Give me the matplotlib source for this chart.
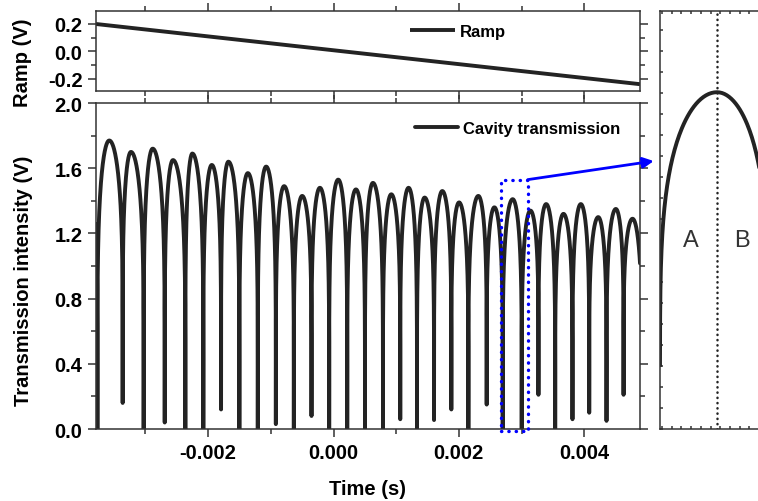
import numpy as np
import matplotlib
matplotlib.use('Agg')
import matplotlib.pyplot as plt
from matplotlib.ticker import MultipleLocator
from matplotlib.patches import Rectangle

plt.rcParams['font.family'] = ['Liberation Sans', 'DejaVu Sans']
plt.rcParams['axes.unicode_minus'] = False

# Ramp voltage (end points of the sweep)
ramp_t = [-0.00379, 0.00489]
ramp_v = [0.20, -0.24]

# Cavity transmission: fringe maxima and the minima between them
peak_t = [-0.00394, -0.003578, -0.003232, -0.002885, -0.002561, -0.002252, -0.001942,
          -0.001677, -0.001367, -0.001075, -0.000788, -0.000500, -0.000217, 0.000075,
          0.000358, 0.000629, 0.000922, 0.001198, 0.001454, 0.001736, 0.002003,
          0.002311, 0.002567, 0.002859, 0.003142, 0.003393, 0.003669, 0.003946,
          0.004224, 0.004505, 0.004771]
peak_v = [1.72, 1.77, 1.70, 1.72, 1.65, 1.69, 1.62, 1.64, 1.57, 1.61, 1.49, 1.43, 1.48,
          1.53, 1.47, 1.51, 1.44, 1.48, 1.42, 1.46, 1.39, 1.43, 1.36, 1.41, 1.34, 1.38,
          1.32, 1.38, 1.30, 1.35, 1.29]
dip_t = [-0.00420, -0.003767, -0.003364, -0.003029, -0.002693, -0.002364, -0.002077,
         -0.001794, -0.001502, -0.001208, -0.000920, -0.000633, -0.000351, -0.000069,
         0.000219, 0.000502, 0.000789, 0.001065, 0.001332, 0.001604, 0.001880, 0.002152,
         0.002444, 0.002700, 0.003003, 0.003270, 0.003537, 0.003813, 0.004080, 0.004356,
         0.004628, 0.00492]
dip_v = [0, 0, 0.16, 0, 0.04, 0, 0, 0.12, 0, 0, 0.03, 0, 0.08, 0, 0, 0, 0, 0.06, 0,
         0.055, 0.12, 0, 0.15, 0, 0, 0.21, 0, 0.06, 0.10, 0.05, 0.21, 0]

# Zoomed fringe (index into peak_t) and marker box around it
zoom_peak = 23
box_t = [0.00267, 0.00310]
box_v = [-0.012, 1.53]

line_col = '#232323'
spine_col = '#333333'


def fringe_curve(sharp=0.2, n=80):
    s = np.linspace(0, 1, n) ** 2
    rise = np.sin(np.pi / 2 * s) ** sharp
    ts, vs = [], []
    for k in range(len(peak_t)):
        t0, t1, tp = dip_t[k], dip_t[k + 1], peak_t[k]
        v0, v1, vp = dip_v[k], dip_v[k + 1], peak_v[k]
        ts.append(t0 + (tp - t0) * s)
        vs.append(v0 + (vp - v0) * rise)
        ts.append(t1 - (t1 - tp) * s[::-1])
        vs.append(v1 + (vp - v1) * rise[::-1])
    return np.concatenate(ts), np.concatenate(vs)


def style_axes(ax, direction='out', major=6.1, minor=3.6):
    for sp in ax.spines.values():
        sp.set_linewidth(1.1)
        sp.set_color(spine_col)
    ax.tick_params(which='both', direction=direction, top=True, right=True,
                   width=1.1, color=spine_col, labelsize=14.5)
    ax.tick_params(which='major', length=major)
    ax.tick_params(which='minor', length=minor)


fig = plt.figure(figsize=(7.58, 5.02), dpi=100)
axRamp = fig.add_axes([0.1266, 0.8167, 0.7177, 0.1594])
axMain = fig.add_axes([0.1266, 0.1434, 0.7177, 0.6494])
axZoom = fig.add_axes([0.8707, 0.1434, 0.1715, 0.8327])

t, v = fringe_curve()
xlim = (-0.00379, 0.00489)

# Ramp panel
axRamp.plot(ramp_t, ramp_v, color=line_col, lw=2.8, label='Ramp', solid_capstyle='butt')
axRamp.set_xlim(xlim)
axRamp.set_ylim(-0.29, 0.295)
axRamp.set_yticks([-0.2, 0.0, 0.2])
axRamp.yaxis.set_minor_locator(MultipleLocator(0.1))
axRamp.xaxis.set_major_locator(MultipleLocator(0.002))
axRamp.xaxis.set_minor_locator(MultipleLocator(0.001))
axRamp.yaxis.set_major_formatter(lambda x, pos: '{0:.1f}'.format(x))
style_axes(axRamp)
axRamp.tick_params(labelbottom=False)
axRamp.tick_params(axis='y', pad=3.6)
for lab in axRamp.get_yticklabels():
    lab.set_fontweight('bold')
axRamp.set_ylabel('Ramp (V)', fontsize=14.5, fontweight='bold')
axRamp.yaxis.set_label_coords(-0.118, 0.36)
axRamp.legend(loc='center left', bbox_to_anchor=(0.577, 0.75), frameon=False,
              borderpad=0, borderaxespad=0, handlelength=2.7, handletextpad=0.3,
              prop={'size': 12, 'weight': 'bold'})

# Transmission panel
axMain.plot(t, v, color=line_col, lw=2.8, label='Cavity transmission',
            solid_joinstyle='round', solid_capstyle='round')
axMain.set_xlim(xlim)
axMain.set_ylim(0, 2.0)
axMain.yaxis.set_major_locator(MultipleLocator(0.4))
axMain.yaxis.set_minor_locator(MultipleLocator(0.2))
axMain.xaxis.set_major_locator(MultipleLocator(0.002))
axMain.xaxis.set_minor_locator(MultipleLocator(0.001))
axMain.xaxis.set_major_formatter(lambda x, pos: '{0:.3f}'.format(x))
axMain.yaxis.set_major_formatter(lambda x, pos: '{0:.1f}'.format(x))
style_axes(axMain)
axMain.tick_params(axis='x', pad=4.3)
axMain.tick_params(axis='y', pad=3.6)
for lab in axMain.get_xticklabels() + axMain.get_yticklabels():
    lab.set_fontweight('bold')
axMain.set_xlabel('Time (s)', fontsize=14.5, fontweight='bold')
axMain.xaxis.set_label_coords(0.5, -0.152)
axMain.xaxis.label.set_va('top')
axMain.set_ylabel('Transmission intensity (V)', fontsize=14.5, fontweight='bold')
axMain.yaxis.set_label_coords(-0.115, 0.457)
axMain.legend(loc='center left', bbox_to_anchor=(0.586, 0.923), frameon=False,
              borderpad=0, borderaxespad=0, handlelength=2.6, handletextpad=0.3,
              prop={'size': 12, 'weight': 'bold'})

# Blue box marking the zoomed fringe, and the arrow to the inset
box = Rectangle((box_t[0], box_v[0]), box_t[1] - box_t[0], box_v[1] - box_v[0],
                fill=False, edgecolor='#0000ff', lw=2.4, linestyle=(0, (0.1, 2.1)),
                capstyle='round', clip_on=False, zorder=5)
axMain.add_patch(box)
axMain.annotate('', xy=(0.00511, 1.644), xytext=(box_t[1], box_v[1]),
                xycoords='data', textcoords='data', annotation_clip=False,
                arrowprops=dict(arrowstyle='-|>', color='#0000ff', lw=2.0,
                                mutation_scale=16, shrinkA=0, shrinkB=0))

# Inset: one fringe magnified
left = dip_t[zoom_peak]
scale = (peak_t[zoom_peak] - left) / 57.0
axZoom.plot(t, v, color=line_col, lw=2.8, solid_joinstyle='round')
axZoom.set_xlim(left + 0.01 * scale, left + 130 * scale)
axZoom.set_ylim(0, 1.75)
axZoom.axvline(peak_t[zoom_peak], color=line_col, lw=1.8, linestyle=(0, (0.1, 2.0)),
               dash_capstyle='round')
axZoom.xaxis.set_major_locator(MultipleLocator(9.7 * scale))
axZoom.yaxis.set_major_locator(MultipleLocator(0.088))
style_axes(axZoom, direction='in', major=2.5, minor=0)
axZoom.tick_params(labelleft=False, labelbottom=False)
axZoom.text(0.238, 0.452, 'A', transform=axZoom.transAxes, fontsize=17,
            ha='center', va='center', color='#333333')
axZoom.text(0.631, 0.452, 'B', transform=axZoom.transAxes, fontsize=17,
            ha='center', va='center', color='#333333')

fig.savefig('out.png', dpi=100)
